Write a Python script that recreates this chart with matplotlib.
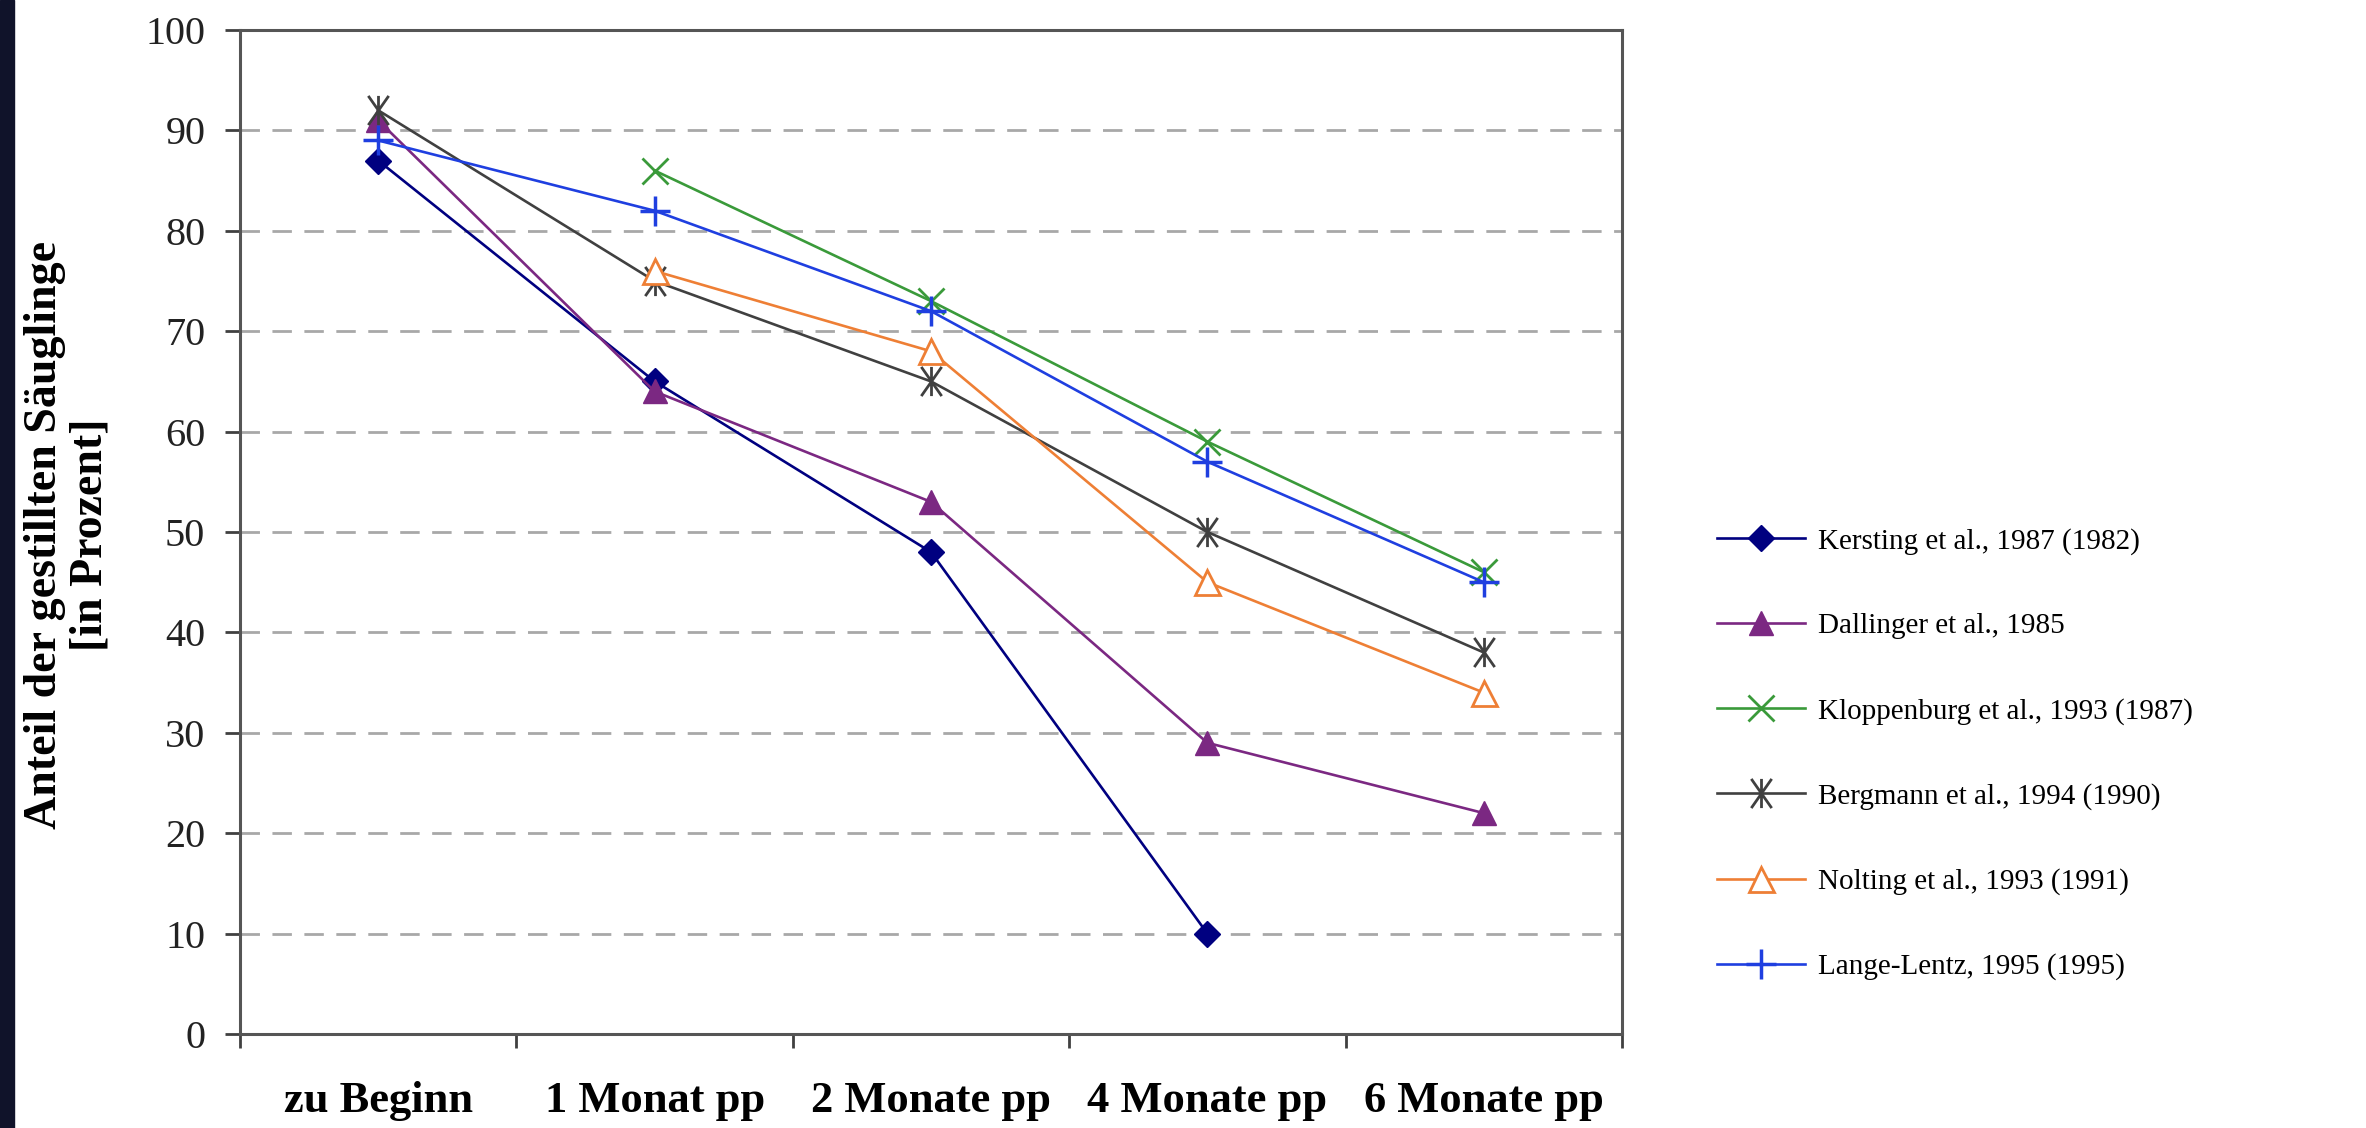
import numpy as np
import matplotlib
matplotlib.use('Agg')
import matplotlib.pyplot as plt
from matplotlib.path import Path
from matplotlib.patches import Rectangle

categories = ['zu Beginn', '1 Monat pp', '2 Monate pp', '4 Monate pp', '6 Monate pp']

kersting = [87, 65, 48, 10, np.nan]
dallinger = [91, 64, 53, 29, 22]
kloppenburg = [np.nan, 86, 73, 59, 46]
bergmann = [92, 75, 65, 50, 38]
nolting = [np.nan, 76, 68, 45, 34]
lange = [89, 82, 72, 57, 45]

labels = ['Kersting et al., 1987 (1982)', 'Dallinger et al., 1985',
          'Kloppenburg et al., 1993 (1987)', 'Bergmann et al., 1994 (1990)',
          'Nolting et al., 1993 (1991)', 'Lange-Lentz, 1995 (1995)']

plt.rcParams['font.family'] = ['Liberation Serif', 'DejaVu Serif']

# asterisk like the Excel one: vertical bar plus a steep X
star = Path([(-0.7, -1), (0.7, 1), (-0.7, 1), (0.7, -1), (0, -1), (0, 1)],
            [Path.MOVETO, Path.LINETO] * 3)

styles = [
    dict(color='#000080', marker='D', ms=13, mfc='#000080', mec='#000080'),
    dict(color='#7B2882', marker='^', ms=17, mfc='#7B2882', mec='#7B2882'),
    dict(color='#3A9A3A', marker='x', ms=19, mew=2),
    dict(color='#404040', marker=star, ms=21, mew=2),
    dict(color='#EE7F35', marker='^', ms=18, mfc='white', mec='#EE7F35', mew=2),
    dict(color='#1F3FE0', marker='+', ms=22, mew=2.5),
]
series = [kersting, dallinger, kloppenburg, bergmann, nolting, lange]

fig = plt.figure(figsize=(23.66, 11.28), dpi=100)
ax = fig.add_axes([240 / 2366, 1 - 1034 / 1128, 1382 / 2366, 1004 / 1128])

x = np.arange(len(categories))
for vals, lab, st in zip(series, labels, styles):
    ax.plot(x, vals, lw=1.9, label=lab, zorder=3, **st)

ax.set_xlim(-0.5, len(categories) - 0.5)
ax.set_ylim(0, 100)
ax.set_yticks(range(0, 101, 10))
for y in range(10, 100, 10):
    ax.axhline(y, color='#A8A8A8', lw=2, ls=(0, (7, 4.5)), zorder=1)

# ticks at category boundaries, labels at centres
ax.set_xticks(np.arange(-0.5, len(categories), 1))
ax.set_xticklabels([])
ax.set_xticks(x, minor=True)
ax.set_xticklabels(categories, minor=True, fontsize=32, fontweight='bold')
ax.tick_params(axis='x', which='minor', length=0, pad=34)
ax.tick_params(axis='x', which='major', length=10, width=2, direction='out', color='#404040')
ax.tick_params(axis='y', length=11, width=2, direction='out', color='#404040',
               labelsize=29, pad=14, labelcolor='#222222')

for s in ax.spines.values():
    s.set_color('#555555')
    s.set_linewidth(2.2)

fig.text(68 / 2366, 1 - 535 / 1128, 'Anteil der gestillten Säuglinge\n[in Prozent]',
         rotation=90, ha='center', va='center', multialignment='center',
         fontsize=33, fontweight='bold', linespacing=1.1)

ax.legend(loc='center left', bbox_to_anchor=(1717 / 2366, 1 - 754 / 1128),
          bbox_transform=fig.transFigure, frameon=False, fontsize=21,
          handlelength=3.0, handletextpad=0.45, labelspacing=2.0,
          borderpad=0, borderaxespad=0)

# dark strip on the left edge of the screenshot
fig.patches.append(Rectangle((0, 0), 14 / 2366, 1, transform=fig.transFigure,
                             color='#10132a', zorder=0))

fig.savefig('out.png', dpi=100)
